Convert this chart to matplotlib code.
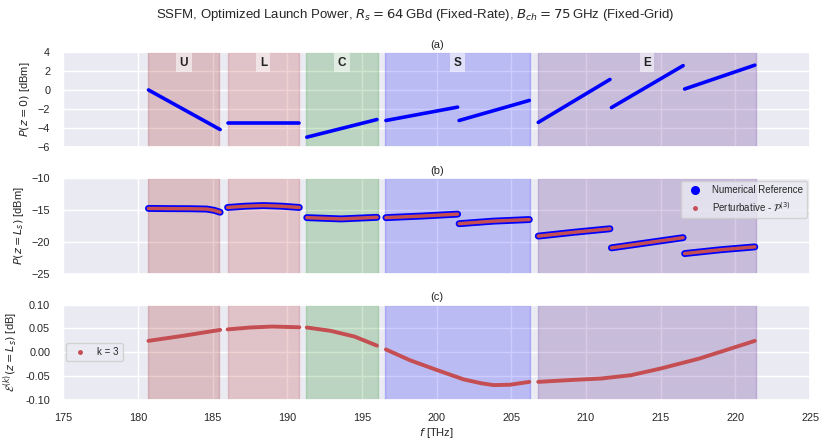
import matplotlib
matplotlib.use('Agg')
import matplotlib.pyplot as plt
from matplotlib.lines import Line2D
import seaborn as sns

sns.set_theme(style='darkgrid')
plt.rcParams['font.family'] = ['Liberation Sans', 'DejaVu Sans']

# bands (THz)
band_names = ['U', 'L', 'C', 'S', 'E']
band_lo = [180.7, 186.0, 191.25, 196.55, 206.8]
band_hi = [185.45, 190.8, 196.05, 206.25, 221.35]
band_colors = ['brown', '#C44E52', 'green', 'blue', 'rebeccapurple']
band_alpha = [0.23, 0.25, 0.2, 0.2, 0.25]

# (a) launch power per sub-band segment
seg_lo = [180.7, 186.0, 191.3, 196.6, 201.5, 206.8, 211.7, 216.6]
seg_hi = [185.5, 190.8, 196.0, 201.4, 206.2, 211.6, 216.5, 221.3]
p0_lo = [0.0, -3.45, -4.95, -3.2, -3.2, -3.4, -1.85, 0.1]
p0_hi = [-4.15, -3.45, -3.1, -1.8, -1.1, 1.1, 2.55, 2.6]

# (b) output power
pl_f = [
    [180.7, 182.0, 183.5, 184.6, 185.1, 185.5],
    [186.0, 187.2, 188.4, 189.6, 190.8],
    [191.3, 193.6, 196.0],
    [196.6, 199.0, 201.4],
    [201.5, 203.8, 206.2],
    [206.8, 209.2, 211.6],
    [211.7, 214.1, 216.5],
    [216.6, 219.0, 221.3],
]
pl_v = [
    [-14.75, -14.78, -14.8, -14.85, -15.05, -15.35],
    [-14.6, -14.4, -14.3, -14.4, -14.6],
    [-16.2, -16.4, -16.15],
    [-16.2, -15.95, -15.65],
    [-17.15, -16.75, -16.5],
    [-19.1, -18.5, -17.95],
    [-20.95, -20.15, -19.35],
    [-21.85, -21.25, -20.8],
]

# (c) error k = 3, per band
err_f = [
    [180.7, 183.1, 185.5],
    [186.0, 187.5, 189.0, 190.8],
    [191.3, 192.9, 194.5, 196.0],
    [196.6, 198.2, 200.0, 201.8, 203.0, 203.8, 204.9, 206.2],
    [206.8, 209.0, 211.0, 213.0, 215.0, 217.6, 220.0, 221.3],
]
err_v = [
    [0.024, 0.035, 0.047],
    [0.048, 0.052, 0.054, 0.0525],
    [0.052, 0.045, 0.033, 0.014],
    [0.006, -0.0165, -0.037, -0.0567, -0.065, -0.0687, -0.068, -0.062],
    [-0.062, -0.058, -0.055, -0.048, -0.034, -0.013, 0.011, 0.024],
]

red = '#C44E52'
fig, axs = plt.subplots(3, 1, sharex=True, figsize=(8.3, 4.45), dpi=100)
fig.subplots_adjust(left=0.0763, right=0.976, top=0.8836, bottom=0.1011, hspace=0.325)

for ax in axs:
    for lo, hi, c, a in zip(band_lo, band_hi, band_colors, band_alpha):
        ax.axvspan(lo, hi, color=c, alpha=a)
    ax.tick_params(labelsize=7.8, pad=3.5)

# (a)
ax = axs[0]
for lo, hi, v0, v1 in zip(seg_lo, seg_hi, p0_lo, p0_hi):
    ax.plot([lo, hi], [v0, v1], color='blue', lw=2.6, solid_capstyle='round')
for name, lo, hi in zip(band_names, band_lo, band_hi):
    ax.text((lo + hi) / 2, 2.85, name, ha='center', va='center', fontsize=8.5,
            fontweight='bold', color='#222222',
            bbox=dict(facecolor='white', alpha=0.55, edgecolor='none', pad=2.5))
ax.set_ylim(-6, 4)
ax.set_yticks([-6, -4, -2, 0, 2, 4])
ax.set_ylabel('$P(z=0)$ [dBm]', fontsize=8)
ax.set_title('(a)', fontsize=8, pad=3)

# (b)
ax = axs[1]
for f, v in zip(pl_f, pl_v):
    ax.plot(f, v, color='blue', lw=5, solid_capstyle='round', solid_joinstyle='round')
for f, v in zip(pl_f, pl_v):
    ax.plot(f, v, color=red, lw=2.5, solid_capstyle='round', solid_joinstyle='round')
ax.set_ylim(-25, -10)
ax.set_yticks([-25, -20, -15, -10])
ax.set_ylabel('$P(z=L_s)$ [dBm]', fontsize=8)
ax.set_title('(b)', fontsize=8, pad=3)
handles = [Line2D([], [], ls='', marker='o', ms=5.5, color='blue'),
           Line2D([], [], ls='', marker='o', ms=2.5, color=red)]
ax.legend(handles, ['Numerical Reference', r'Perturbative - $\mathcal{P}^{(3)}$'],
          loc='upper right', fontsize=7, borderaxespad=0.3)

# (c)
ax = axs[2]
for f, v in zip(err_f, err_v):
    ax.plot(f, v, color=red, lw=2.8, solid_capstyle='round', solid_joinstyle='round')
ax.set_ylim(-0.1, 0.1)
ax.set_yticks([-0.10, -0.05, 0.00, 0.05, 0.10])
ax.yaxis.set_major_formatter(matplotlib.ticker.FormatStrFormatter('%.2f'))
ax.set_ylabel(r'$\mathcal{E}^{(k)}(z=L_s)$ [dB]', fontsize=8)
ax.set_title('(c)', fontsize=8, pad=3)
ax.legend([Line2D([], [], ls='', marker='o', ms=2.5, color=red)], ['k = 3'],
          loc='center left', fontsize=7, borderaxespad=0.3)
ax.set_xlim(175, 225)
ax.set_xticks(range(175, 226, 5))
ax.set_xlabel('$f$ [THz]', fontsize=8, labelpad=2)

fig.suptitle(r'SSFM, Optimized Launch Power, $R_s = 64\,$GBd (Fixed-Rate), $B_{ch} = 75\,$GHz (Fixed-Grid)',
             fontsize=9.5, y=0.966, va='center')

fig.savefig('out.png', dpi=100)
